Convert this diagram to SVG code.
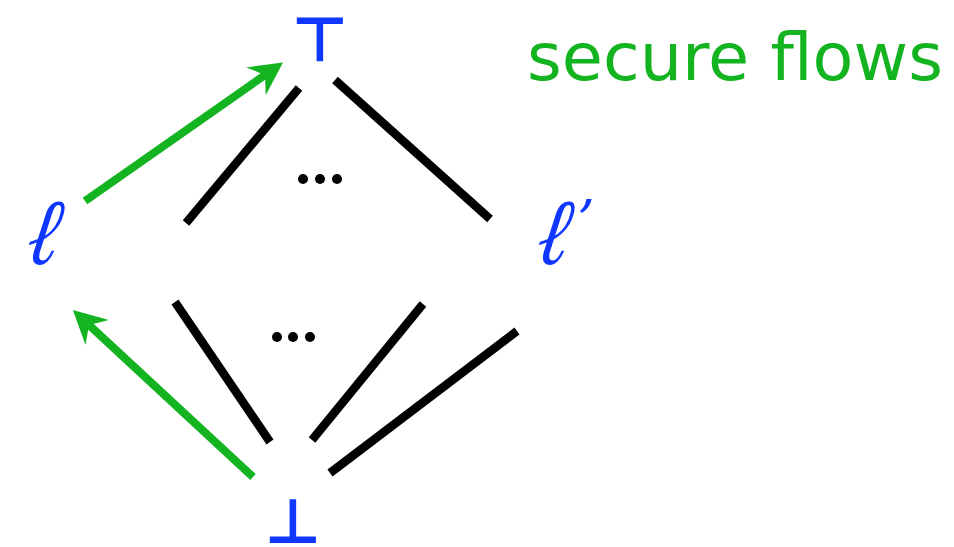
<svg xmlns="http://www.w3.org/2000/svg" width="954" height="547" viewBox="0 0 954 547">
  <style>
    .label { fill: #0f37ff; font-family: "DejaVu Serif", "Liberation Serif", serif; font-style: italic; }
    .bound { fill: #0f37ff; font-family: "DejaVu Sans", "Liberation Sans", sans-serif; font-weight: bold; }
    .edge { stroke: #000; stroke-width: 8.5; fill: none; }
    .flow { stroke: #14b420; stroke-width: 8; fill: none; }
    .dot { fill: #000; }
    .title { fill: #14b420; font-family: "DejaVu Sans", "Liberation Sans", sans-serif; }
  </style>
  <defs>
    <marker id="flowhead" markerUnits="userSpaceOnUse" viewBox="0 0 33 34" markerWidth="33" markerHeight="34" refX="11" refY="17" orient="auto">
      <path d="M0,0 L33,17 L0,34 L11,17 Z" fill="#14b420"/>
    </marker>
  </defs>

  <g id="top">
    <text class="bound" x="320" y="61" font-size="62" text-anchor="middle">⊤</text>
  </g>
  <g id="bottom">
    <text class="bound" x="293" y="543" font-size="62" text-anchor="middle">⊥</text>
  </g>
  <g id="l">
    <text class="label" transform="translate(24,264) skewX(-10) scale(0.8,1)" font-size="94">ℓ</text>
  </g>
  <g id="l-prime">
    <text class="label" transform="translate(534,264) skewX(-10) scale(0.8,1)" font-size="94">ℓ</text>
    <text class="label" x="577" y="240" font-size="56">’</text>
  </g>

  <g id="connectors">
    <line class="edge" x1="186" y1="223" x2="299" y2="88"/>
    <line class="edge" x1="335" y1="80" x2="490" y2="219"/>
    <line class="edge" x1="175" y1="302" x2="270" y2="442"/>
    <line class="edge" x1="423" y1="304" x2="312" y2="440"/>
    <line class="edge" x1="517" y1="331" x2="330" y2="473"/>
    <line class="flow" x1="85" y1="201" x2="265" y2="75" marker-end="url(#flowhead)"/>
    <line class="flow" x1="253" y1="477" x2="89" y2="325" marker-end="url(#flowhead)"/>
  </g>

  <g id="ellipsis-upper">
    <circle class="dot" cx="303" cy="179" r="5"/>
    <circle class="dot" cx="320" cy="179" r="5"/>
    <circle class="dot" cx="337" cy="179" r="5"/>
  </g>
  <g id="ellipsis-lower">
    <circle class="dot" cx="277" cy="337" r="5"/>
    <circle class="dot" cx="293" cy="337" r="5"/>
    <circle class="dot" cx="310" cy="337" r="5"/>
  </g>

  <g id="caption">
    <text class="title" x="527" y="80" font-size="66" textLength="416" lengthAdjust="spacingAndGlyphs">secure flows</text>
  </g>
</svg>
